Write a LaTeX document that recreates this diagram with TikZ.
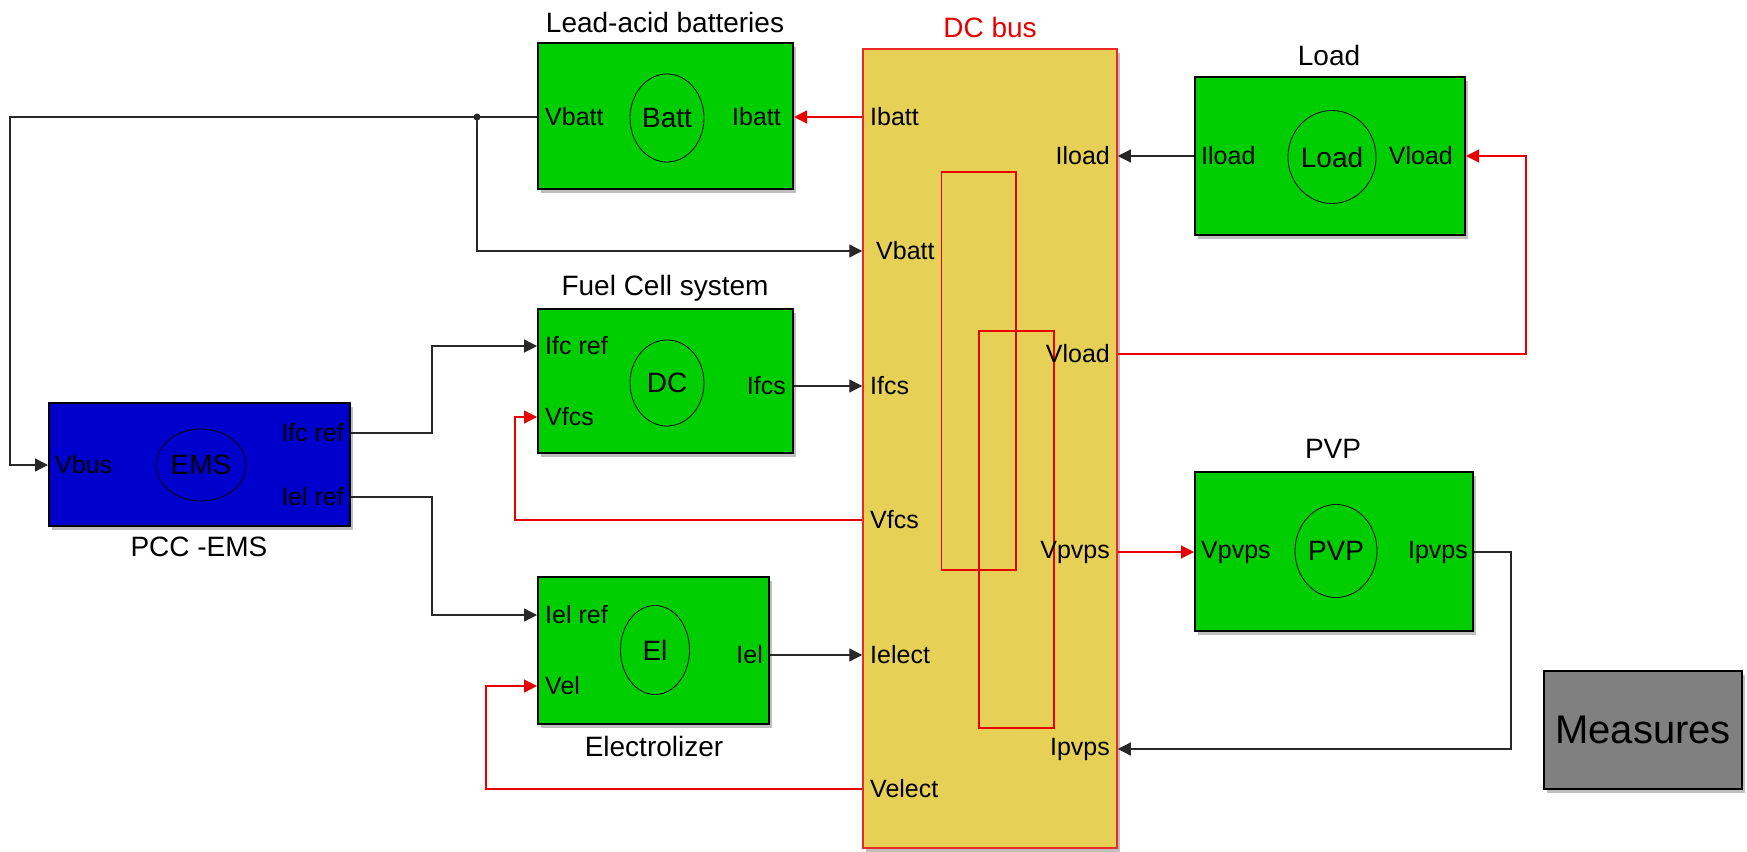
\documentclass[tikz,border=0pt]{standalone}
\usepackage{fontspec}
\setmainfont{Liberation Sans}
\usetikzlibrary{arrows.meta,shadows,shapes.geometric}
\definecolor{blkgreen}{RGB}{0,206,0}
\definecolor{busyellow}{RGB}{230,208,85}
\definecolor{emsblue}{RGB}{0,0,204}
\definecolor{measgray}{RGB}{128,128,128}
\definecolor{wirecol}{RGB}{40,40,40}
\definecolor{redwire}{RGB}{232,0,0}
\definecolor{busred}{RGB}{235,40,40}
\begin{document}
\begin{tikzpicture}[x=1pt,y=-1pt,
  block/.style={draw=black,line width=2pt,inner sep=0pt,rectangle,
    drop shadow={shadow xshift=3pt,shadow yshift=-4pt,fill=black,opacity=0.25}},
  greenblock/.style={block,fill=blkgreen},
  core/.style={ellipse,draw=black,line width=0.8pt,inner sep=0pt,font=\fontsize{28}{31}\selectfont},
  portl/.style={anchor=west,inner sep=0pt,font=\fontsize{25}{29}\selectfont},
  portr/.style={anchor=east,inner sep=0pt,font=\fontsize{25}{29}\selectfont},
  title/.style={inner sep=0pt,font=\fontsize{28}{31}\selectfont},
  wire/.style={draw=wirecol,line width=1.3pt,-{Triangle[length=13pt,width=13pt]}},
  rwire/.style={draw=redwire,line width=1.2pt,-{Triangle[length=13pt,width=13pt]}},
  innerrect/.style={draw=redwire,line width=1.6pt}
]
\useasboundingbox (0,0) rectangle (1747,851);

% ---------------- blocks ----------------
\node[block,fill=busyellow,draw=busred,line width=1.5pt,minimum width=254pt,minimum height=799pt] (bus) at (990,448.5) {};
\node[greenblock,minimum width=255pt,minimum height=146pt] (batt) at (665.5,116) {};
\node[greenblock,minimum width=255pt,minimum height=144pt] (fc) at (665.5,381) {};
\node[greenblock,minimum width=231pt,minimum height=147pt] (el) at (653.5,650.5) {};
\node[block,fill=emsblue,minimum width=301pt,minimum height=123pt] (ems) at (199.5,464.5) {};
\node[greenblock,minimum width=270pt,minimum height=158pt] (load) at (1330,156) {};
\node[greenblock,minimum width=278pt,minimum height=159pt] (pvp) at (1334,551.5) {};
\node[block,fill=measgray,minimum width=198pt,minimum height=118pt,font=\fontsize{40}{45}\selectfont] (meas) at (1643,730) {Measures};

% inner red rectangles of the DC bus
\draw[innerrect] (941.5,172) rectangle (1016,570);
\draw[innerrect] (979,331) rectangle (1054,728);

% ---------------- ellipses ----------------
\node[core,minimum width=74pt,minimum height=88pt] (battc) at (667,118) {Batt};
\node[core,minimum width=74pt,minimum height=86pt] (fcc) at (667,383) {DC};
\node[core,minimum width=69pt,minimum height=89pt] (elc) at (655,650) {El};
\node[core,minimum width=90pt,minimum height=72pt] (emsc) at (201,465) {EMS};
\node[core,minimum width=80pt,minimum height=93pt] (loadc) at (1332,157) {Load};
\node[core,minimum width=82pt,minimum height=93pt] (pvpc) at (1336,551) {PVP};

% ---------------- titles ----------------
\node[title] (tbatt) at (665,22) {Lead-acid batteries};
\node[title] (tfc) at (665,288) {Fuel Cell system};
\node[title] (tel) at (654,746) {Electrolizer};
\node[title] (tems) at (199,547) {PCC -EMS};
\node[title,text=redwire] (tbus) at (990,27) {DC bus};
\node[title] (tload) at (1329,55) {Load};
\node[title] (tpvp) at (1333,449) {PVP};

% ---------------- port labels ----------------
\node[portl] (bV) at (545,117) {Vbatt};
\node[portr] (bI) at (781,117) {Ibatt};
\node[portl] (fIref) at (545,346) {Ifc ref};
\node[portl] (fV) at (545,417) {Vfcs};
\node[portr] (fI) at (786,386) {Ifcs};
\node[portl] (eIref) at (545,615) {Iel ref};
\node[portl] (eV) at (545,686) {Vel};
\node[portr] (eI) at (763,655) {Iel};
\node[portl] (mV) at (55,465) {Vbus};
\node[portr] (mIfc) at (344,433) {Ifc ref};
\node[portr] (mIel) at (344,497) {Iel ref};
\node[portl] (sIb) at (870,117) {Ibatt};
\node[portl] (sVb) at (876,251) {Vbatt};
\node[portl] (sIf) at (870,386) {Ifcs};
\node[portl] (sVf) at (870,520) {Vfcs};
\node[portl] (sIe) at (870,655) {Ielect};
\node[portl] (sVe) at (870,789) {Velect};
\node[portr] (sIl) at (1110,156) {Iload};
\node[portr] (sVl) at (1110,354) {Vload};
\node[portr] (sVp) at (1110,552) {Vpvps};
\node[portr] (sIp) at (1110,749) {Ipvps};
\node[portl] (lI) at (1201,156) {Iload};
\node[portr] (lV) at (1453,156) {Vload};
\node[portl] (pV) at (1201,552) {Vpvps};
\node[portr] (pI) at (1468,552) {Ipvps};

% ---------------- bend points ----------------
\coordinate (junc) at (477,117);
\coordinate (lft) at (10,117);
\coordinate (emsbend1) at (432,433);
\coordinate (emsbend2) at (432,497);
\coordinate (vfcsbend) at (515,520);
\coordinate (velbend) at (486,789);
\coordinate (vloadbend) at (1526,354);
\coordinate (ipvpsbend) at (1511,552);

% ---------------- connectors ----------------
\draw[wire] (batt.west |- bV) -- (junc) -- (lft) |- (ems.west |- mV);
\fill[wirecol] (junc) circle (3.5pt);
\draw[wire] (junc) |- (bus.west |- sVb);
\draw[rwire] (bus.west |- sIb) -- (batt.east |- bI);
\draw[wire] (ems.east |- mIfc) -- (emsbend1) |- (fc.west |- fIref);
\draw[wire] (ems.east |- mIel) -- (emsbend2) |- (el.west |- eIref);
\draw[wire] (fc.east |- fI) -- (bus.west |- sIf);
\draw[rwire] (bus.west |- sVf) -- (vfcsbend) |- (fc.west |- fV);
\draw[wire] (el.east |- eI) -- (bus.west |- sIe);
\draw[rwire] (bus.west |- sVe) -- (velbend) |- (el.west |- eV);
\draw[wire] (load.west |- lI) -- (bus.east |- sIl);
\draw[rwire] (bus.east |- sVl) -- (vloadbend) |- (load.east |- lV);
\draw[rwire] (bus.east |- sVp) -- (pvp.west |- pV);
\draw[wire] (pvp.east |- pI) -- (ipvpsbend) |- (bus.east |- sIp);
\end{tikzpicture}
\end{document}
